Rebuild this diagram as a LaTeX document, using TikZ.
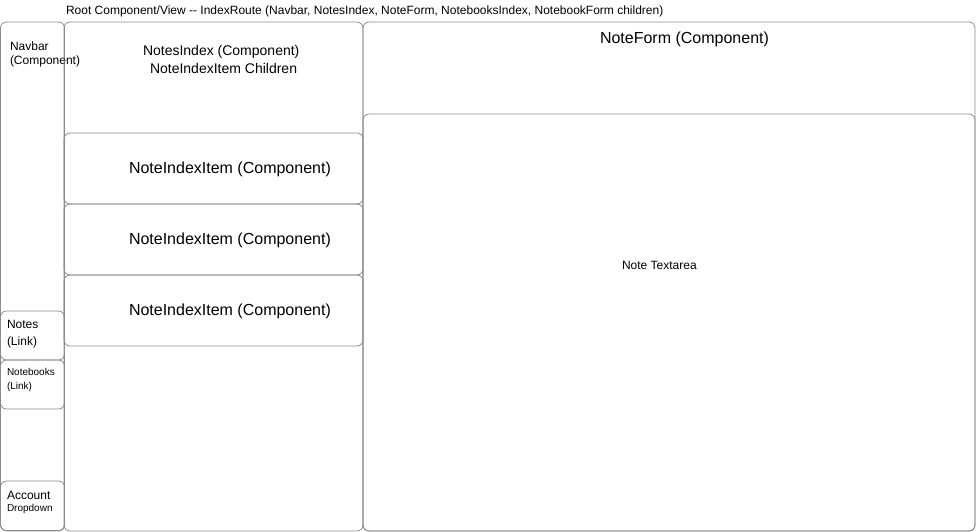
\documentclass[tikz,border=0pt]{standalone}
\usepackage{fontspec}
\setmainfont{Liberation Sans}
\usetikzlibrary{positioning}

\begin{document}
\begin{tikzpicture}[
  x=1pt, y=-1pt,
  every node/.style={inner sep=0pt, outer sep=0pt},
  panel/.style={draw=black!45, line width=0.8pt, rounded corners=6pt, anchor=north west},
  txt/.style={anchor=base west, text=black},
  big/.style={txt, font=\fontsize{16}{19}\selectfont},
  mid/.style={txt, font=\fontsize{14}{17}\selectfont},
  norm/.style={txt, font=\fontsize{12}{14}\selectfont},
  tiny/.style={txt, font=\fontsize{10}{12}\selectfont}
]
\useasboundingbox (0,0) rectangle (976,531);

% --- Title ---
\node[norm] (title) at (66,14) {Root Component/View -{}- IndexRoute (Navbar, NotesIndex, NoteForm, NotebooksIndex, NotebookForm children)};

% --- Navbar column ---
\node[panel, minimum width=64pt, minimum height=509pt] (navbar) at (0.5,22) {};
\node[panel, minimum width=64pt, minimum height=49pt] (noteslink) at (0.5,311) {};
\node[panel, minimum width=64pt, minimum height=49pt] (nbookslink) at (0.5,360) {};
\node[panel, minimum width=64pt, minimum height=49.5pt] (account) at (0.5,481) {};

\node[norm] (navbarA) at (10,50) {Navbar};
\node[norm] (navbarB) at (10,64) {(Component)};
\node[norm] (notesA) at (7,328) {Notes};
\node[norm] (notesB) at (7,345) {(Link)};
\node[tiny] (nbooksA) at (7,375.5) {Notebooks};
\node[tiny] (nbooksB) at (7,389) {(Link)};
\node[norm] (accountA) at (7,499) {Account};
\node[tiny] (accountB) at (7,511) {Dropdown};

% --- NotesIndex column ---
\node[panel, minimum width=299pt, minimum height=509pt] (notesindex) at (64,22) {};
\node[mid] (indexA) at (143,55) {NotesIndex (Component)};
\node[mid] (indexB) at (150,73) {NoteIndexItem Children};

\foreach \i/\y in {1/133, 2/204, 3/275} {
  \node[panel, minimum width=299pt, minimum height=71pt] (item\i) at (64,\y) {};
  \node[big] (itemtxt\i) at (129,\y+40) {NoteIndexItem (Component)};
}

% --- NoteForm column ---
\node[panel, minimum width=612pt, minimum height=509pt] (noteform) at (363,22) {};
\node[big] (formtxt) at (600,43) {NoteForm (Component)};
\node[panel, minimum width=612pt, minimum height=417pt] (textarea) at (363,114) {};
\node[norm] (areatxt) at (622,269) {Note Textarea};

\end{tikzpicture}
\end{document}
